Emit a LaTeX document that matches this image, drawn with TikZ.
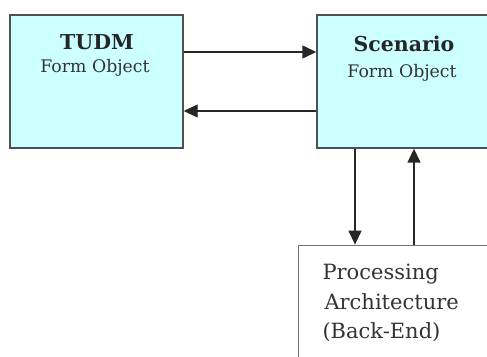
\documentclass[tikz,border=0pt]{standalone}
\usepackage{fontspec}
\setmainfont{DejaVu Serif}
\usetikzlibrary{arrows.meta}
\definecolor{formcyan}{RGB}{204,255,255}
\definecolor{edgegray}{RGB}{80,80,80}

\begin{document}
\begin{tikzpicture}[x=1pt,y=1pt,
  formbox/.style={draw=edgegray,line width=1.4pt,fill=formcyan,inner sep=0pt},
  procbox/.style={draw=edgegray!80,line width=0.8pt,fill=white,inner sep=0pt},
  flow/.style={line width=1.4pt,draw=black!85,-{Triangle[length=14pt,width=13pt]}},
  title/.style={anchor=base,text=black!85,font=\fontsize{20.5}{24}\selectfont\bfseries},
  sub/.style={anchor=base,text=black!80,font=\fontsize{17.3}{21}\selectfont},
  proc/.style={anchor=base west,text=black!80,font=\fontsize{21}{29}\selectfont}]
        \clip (0,0) rectangle (487,356);
        \node[formbox,minimum width=173pt,minimum height=133pt] (tudm) at (96.5,274.5) {};
        \node[formbox,minimum width=180pt,minimum height=133pt] (scen) at (407,274.5) {};
        \node[procbox,minimum width=202pt,minimum height=125pt] (proc) at (399,48.5) {};

        \node[title] (tudmT) at (97,306) {TUDM};
        \node[sub] (tudmS) at (95,283) {Form Object};
        \node[title] (scenT) at (404,304) {Scenario};
        \node[sub] (scenS) at (402,278) {Form Object};
        \node[proc] (procA) at (319,76) {Processing};
        \node[proc] (procB) at (321,46) {Architecture};
        \node[proc] (procC) at (319,18) {(Back-End)};

        \draw[flow] ([yshift=29.5pt]tudm.east) to ([yshift=29.5pt]tudm.east -| scen.west);
        \draw[flow] ([yshift=-29.5pt]scen.west) to ([yshift=-29.5pt]scen.west -| tudm.east);
        \draw[flow] ([xshift=-52pt]scen.south) to ([xshift=-52pt]scen.south |- proc.north);
        \draw[flow] ([xshift=7pt]scen.south |- proc.north) to ([xshift=7pt]scen.south);
      \end{tikzpicture}
\end{document}
